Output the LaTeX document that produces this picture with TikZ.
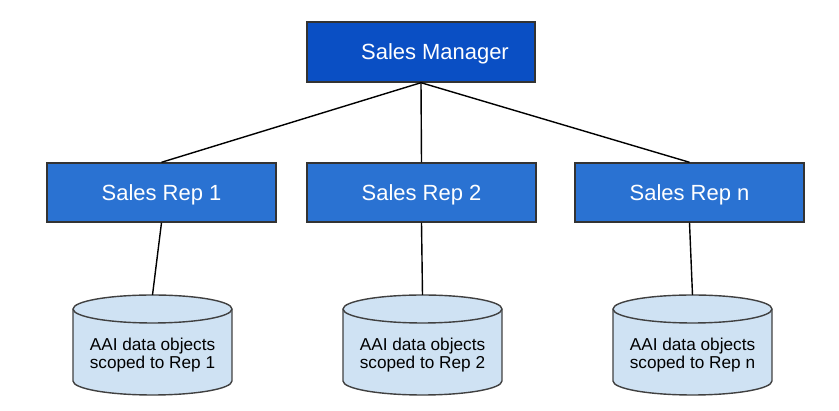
\documentclass[tikz,border=0pt]{standalone}
\usepackage{fontspec}
\setmainfont{Liberation Sans}
\definecolor{mgrblue}{HTML}{0A4FC4}
\definecolor{repblue}{HTML}{2A72D2}
\definecolor{dbblue}{HTML}{CFE2F3}
\begin{document}
\begin{tikzpicture}[x=0.02cm,y=-0.02cm]
% Frame
\useasboundingbox (0,0) rectangle (839,411);

\tikzstyle{mgr} = [draw=black!80, shape=rectangle, minimum height=1.2cm, minimum width=4.56cm, line width=0.8pt, fill=mgrblue, text=white, text depth=0pt, font=\fontsize{12.5}{15}\selectfont]
\tikzstyle{rep} = [draw=black!80, shape=rectangle, minimum height=1.18cm, minimum width=4.58cm, line width=0.8pt, fill=repblue, text=white, text depth=0pt, font=\fontsize{12.5}{15}\selectfont]
\tikzstyle{db} = [draw=black!75, line width=0.8pt, fill=dbblue]
\tikzstyle{dbtext} = [align=center, font=\fontsize{9.8}{8.6}\selectfont]
\tikzstyle{link} = [line width=0.8pt]

\node at (421,52)[mgr](mgr){\hspace*{0.56cm}Sales Manager};

\node at (161.5,192.5)[rep](rep1){Sales Rep 1};
\node at (421.5,192.5)[rep](rep2){Sales Rep 2};
\node at (689.5,192.5)[rep](repn){Sales Rep n};

% Data stores
\foreach \x/\n in {152.5/1, 422.5/2, 692.5/n}{
  \draw[db] (\x-79.5,309) -- (\x-79.5,381)
    arc[start angle=180, end angle=360, x radius=1.59cm, y radius=0.28cm]
    -- (\x+79.5,309)
    arc[start angle=0, end angle=180, x radius=1.59cm, y radius=0.28cm] -- cycle;
  \draw[db, fill=none] (\x-79.5,309)
    arc[start angle=180, end angle=360, x radius=1.59cm, y radius=0.28cm];
  \coordinate (db\n) at (\x,295);
  \node at (\x,355)[dbtext](t\n){AAI data objects\\scoped to Rep \n};
}

\draw[link] (mgr.south)--(rep1.north);
\draw[link] (mgr.south)--(rep2.north);
\draw[link] (mgr.south)--(repn.north);

\draw[link] (rep1.south)--(db1);
\draw[link] (rep2.south)--(db2);
\draw[link] (repn.south)--(dbn);

\end{tikzpicture}
\end{document}
